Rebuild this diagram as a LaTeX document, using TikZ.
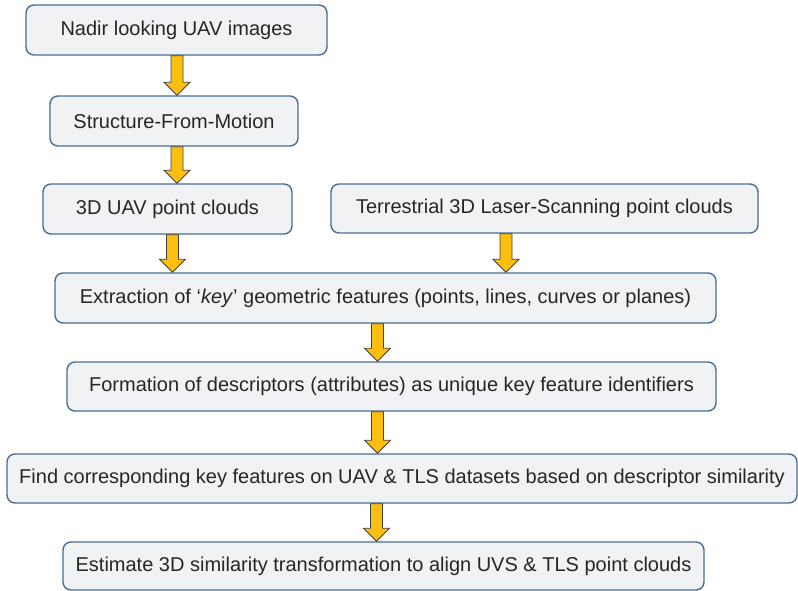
\documentclass[tikz,border=0pt]{standalone}
\usepackage{fontspec}
\setmainfont{Liberation Sans}
\usetikzlibrary{calc}
\definecolor{boxfill}{HTML}{F1F2F4}
\definecolor{boxline}{HTML}{4A6D94}
\definecolor{arrfill}{HTML}{FCBF10}
\definecolor{arrline}{HTML}{404040}
\definecolor{txt}{HTML}{262626}
\begin{document}
\begin{tikzpicture}[x=1pt,y=-1pt,
 stepbox/.style={draw=boxline, line width=1.4pt, fill=boxfill, rounded corners=8pt, text=txt,
   font=\fontsize{20}{24}\selectfont, inner sep=0pt, anchor=center},
 blockarrow/.style={draw=arrline, line width=0.8pt, fill=arrfill, line join=miter,
   to path={let \p1=(\tikztostart), \p2=(\tikztotarget) in
     (\x1-6pt,\y1) -- (\x1+6pt,\y1) -- (\x1+6pt,\y2+13pt) -- (\x1+13pt,\y2+13pt) -- (\x1,\y2)
     -- (\x1-13pt,\y2+13pt) -- (\x1-6pt,\y2+13pt) -- cycle}}]
\useasboundingbox (0,0) rectangle (798,591);
\node[stepbox, minimum width=301pt, minimum height=50pt] (b1) at (176.5,30) {Nadir looking UAV images};
\node[stepbox, minimum width=248pt, minimum height=50pt] (b2) at (174,121) {Structure-From-Motion};
\node[stepbox, minimum width=249pt, minimum height=50pt] (b3) at (167.5,209) {3D UAV point clouds};
\node[stepbox, minimum width=427pt, minimum height=49pt] (b4) at (544.5,208.5) {Terrestrial 3D Laser-Scanning point clouds};
\node[stepbox, minimum width=661pt, minimum height=50pt] (b5) at (385.5,298) {Extraction of ‘\textit{key}’ geometric features (points, lines, curves or planes)};
\node[stepbox, minimum width=649pt, minimum height=49pt] (b6) at (391.5,386.5) {Formation of descriptors (attributes) as unique key feature identifiers};
\node[stepbox, minimum width=790pt, minimum height=49pt] (b7) at (402,478.5) {Find corresponding key features on UAV \& TLS datasets based on descriptor similarity};
\node[stepbox, minimum width=641pt, minimum height=48pt] (b8) at (383.5,566) {Estimate 3D similarity transformation to align UVS \& TLS point clouds};
\draw[blockarrow] ([xshift=0.5pt]b1.south) to (b2.north);
\draw[blockarrow] ([xshift=3pt]b2.south) to (b3.north);
\draw[blockarrow] ([xshift=5pt]b3.south) to (b5.north);
\draw[blockarrow] ([xshift=-38.5pt]b4.south) to (b5.north);
\draw[blockarrow] ([xshift=-8pt]b5.south) to (b6.north);
\draw[blockarrow] ([xshift=-14pt]b6.south) to (b7.north);
\draw[blockarrow] ([xshift=-25.5pt]b7.south) to (b8.north);
\end{tikzpicture}
\end{document}
